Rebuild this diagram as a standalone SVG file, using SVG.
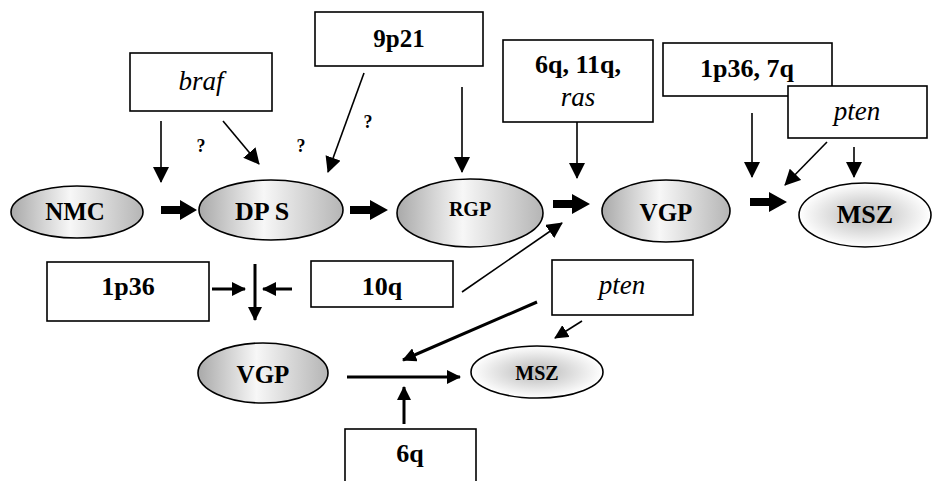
<svg xmlns="http://www.w3.org/2000/svg" width="933" height="481" viewBox="0 0 933 481">
<style>
.box{fill:#fff;stroke:#000;stroke-width:1.6}
.ell{stroke:#000;stroke-width:1.6}
.t{font-family:"Liberation Serif","Times New Roman",serif;fill:#000;text-anchor:middle}
.b{font-weight:bold}
.i{font-style:italic}
.thin{stroke:#000;stroke-width:1.6;fill:none}
.med{stroke:#000;stroke-width:3;fill:none}
</style>
<defs>
<linearGradient id="g" x1="0" y1="0" x2="1" y2="0">
<stop offset="0" stop-color="#a9a9a9"/>
<stop offset="0.45" stop-color="#f7f7f7"/>
<stop offset="1" stop-color="#b5b5b5"/>
</linearGradient>
<radialGradient id="r" cx="0.5" cy="0.5" r="0.5">
<stop offset="0" stop-color="#b8b8b8"/>
<stop offset="1" stop-color="#ffffff"/>
</radialGradient>
<marker id="ah" markerUnits="userSpaceOnUse" markerWidth="16" markerHeight="16" viewBox="0 0 16 16" refX="15" refY="8" orient="auto">
<path d="M0,0 L16,8 L0,16 Z" fill="#000"/>
</marker>
<marker id="ahm" markerUnits="userSpaceOnUse" markerWidth="14" markerHeight="14" viewBox="0 0 14 14" refX="13" refY="7" orient="auto">
<path d="M0,0 L14,7 L0,14 Z" fill="#000"/>
</marker>
</defs>

<g id="box-braf"><rect class="box" x="130" y="53" width="142" height="58"/><text class="t i" x="201" y="90" font-size="27">braf</text></g>
<g id="box-9p21"><rect class="box" x="315" y="12" width="168" height="54"/><text class="t b" x="399" y="47" font-size="25">9p21</text></g>
<g id="box-6q11qras"><rect class="box" x="503" y="40" width="150" height="82"/><text class="t b" x="578" y="73" font-size="26">6q, 11q,</text><text class="t i" x="578" y="106" font-size="27">ras</text></g>
<g id="box-1p36-7q"><rect class="box" x="663" y="43" width="169" height="53"/><text class="t b" x="747" y="77" font-size="26">1p36, 7q</text></g>
<g id="box-pten-top"><rect class="box" x="788" y="86" width="139" height="52"/><text class="t i" x="857" y="120" font-size="27">pten</text></g>

<g id="node-NMC"><ellipse class="ell" cx="77" cy="212" rx="66" ry="26" fill="url(#g)"/><text class="t b" x="75" y="220" font-size="25">NMC</text></g>
<g id="node-DPS"><ellipse class="ell" cx="271" cy="210" rx="72" ry="30" fill="url(#g)"/><text class="t b" x="262" y="220" font-size="26">DP S</text></g>
<g id="node-RGP"><ellipse class="ell" cx="470" cy="213" rx="73" ry="34" fill="url(#g)"/><text class="t b" x="470" y="216" font-size="20">RGP</text></g>
<g id="node-VGP-top"><ellipse class="ell" cx="666" cy="211" rx="64" ry="31" fill="url(#g)"/><text class="t b" x="666" y="221" font-size="25">VGP</text></g>
<g id="node-MSZ-top"><ellipse class="ell" cx="865" cy="215" rx="66" ry="32" fill="url(#r)"/><text class="t b" x="865" y="223" font-size="26">MSZ</text></g>

<g id="box-1p36"><rect class="box" x="47" y="262" width="162" height="59"/><text class="t b" x="128" y="295" font-size="26">1p36</text></g>
<g id="box-10q"><rect class="box" x="311" y="261" width="142" height="46"/><text class="t b" x="382" y="295" font-size="26">10q</text></g>
<g id="box-pten-bottom"><rect class="box" x="552" y="260" width="141" height="55"/><text class="t i" x="622" y="294" font-size="27">pten</text></g>
<g id="node-VGP-bottom"><ellipse class="ell" cx="263" cy="373" rx="65" ry="30" fill="url(#g)"/><text class="t b" x="263" y="383" font-size="25">VGP</text></g>
<g id="node-MSZ-bottom"><ellipse class="ell" cx="537" cy="372" rx="66" ry="26" fill="url(#r)"/><text class="t b" x="537" y="380" font-size="20">MSZ</text></g>
<g id="box-6q"><rect class="box" x="345" y="429" width="131" height="70"/><text class="t b" x="410" y="462" font-size="26">6q</text></g>

<g id="labels">
<text class="t b" x="201" y="152" font-size="18">?</text>
<text class="t b" x="301" y="152" font-size="18">?</text>
<text class="t b" x="368" y="128" font-size="18">?</text>
</g>

<g id="connectors">
<line class="thin" x1="161" y1="121" x2="161" y2="182" marker-end="url(#ah)"/>
<line class="thin" x1="223" y1="121" x2="259" y2="164" marker-end="url(#ah)"/>
<line class="thin" x1="364" y1="73" x2="328" y2="172" marker-end="url(#ah)"/>
<line class="thin" x1="462" y1="87" x2="462" y2="172" marker-end="url(#ah)"/>
<line class="thin" x1="577" y1="122" x2="577" y2="178" marker-end="url(#ah)"/>
<line class="thin" x1="752" y1="113" x2="752" y2="177" marker-end="url(#ah)"/>
<line class="thin" x1="827" y1="142" x2="785" y2="185" marker-end="url(#ah)"/>
<line class="thin" x1="854" y1="147" x2="854" y2="177" marker-end="url(#ah)"/>
<path d="M161,206 H180 V200 L197,210 L180,220 V214 H161 Z" fill="#000"/>
<path d="M350,206 H370 V200 L388,210 L370,220 V214 H350 Z" fill="#000"/>
<path d="M553,200 H572 V194 L590,204 L572,214 V208 H553 Z" fill="#000"/>
<path d="M750,198 H769 V192 L787,202 L769,212 V206 H750 Z" fill="#000"/>
<line class="thin" x1="462" y1="292" x2="562" y2="223" marker-end="url(#ah)"/>
<line class="med" x1="212" y1="289" x2="245" y2="289" marker-end="url(#ahm)"/>
<line class="med" x1="292" y1="289" x2="263" y2="289" marker-end="url(#ahm)"/>
<line class="med" x1="255" y1="264" x2="255" y2="320" marker-end="url(#ahm)"/>
<line class="med" x1="347" y1="377" x2="460" y2="377" marker-end="url(#ahm)"/>
<line class="med" x1="404" y1="424" x2="404" y2="387" marker-end="url(#ahm)"/>
<line class="med" x1="537" y1="302" x2="403" y2="360" marker-end="url(#ahm)"/>
<line class="thin" x1="582" y1="321" x2="555" y2="338" marker-end="url(#ahm)"/>
</g>
</svg>
